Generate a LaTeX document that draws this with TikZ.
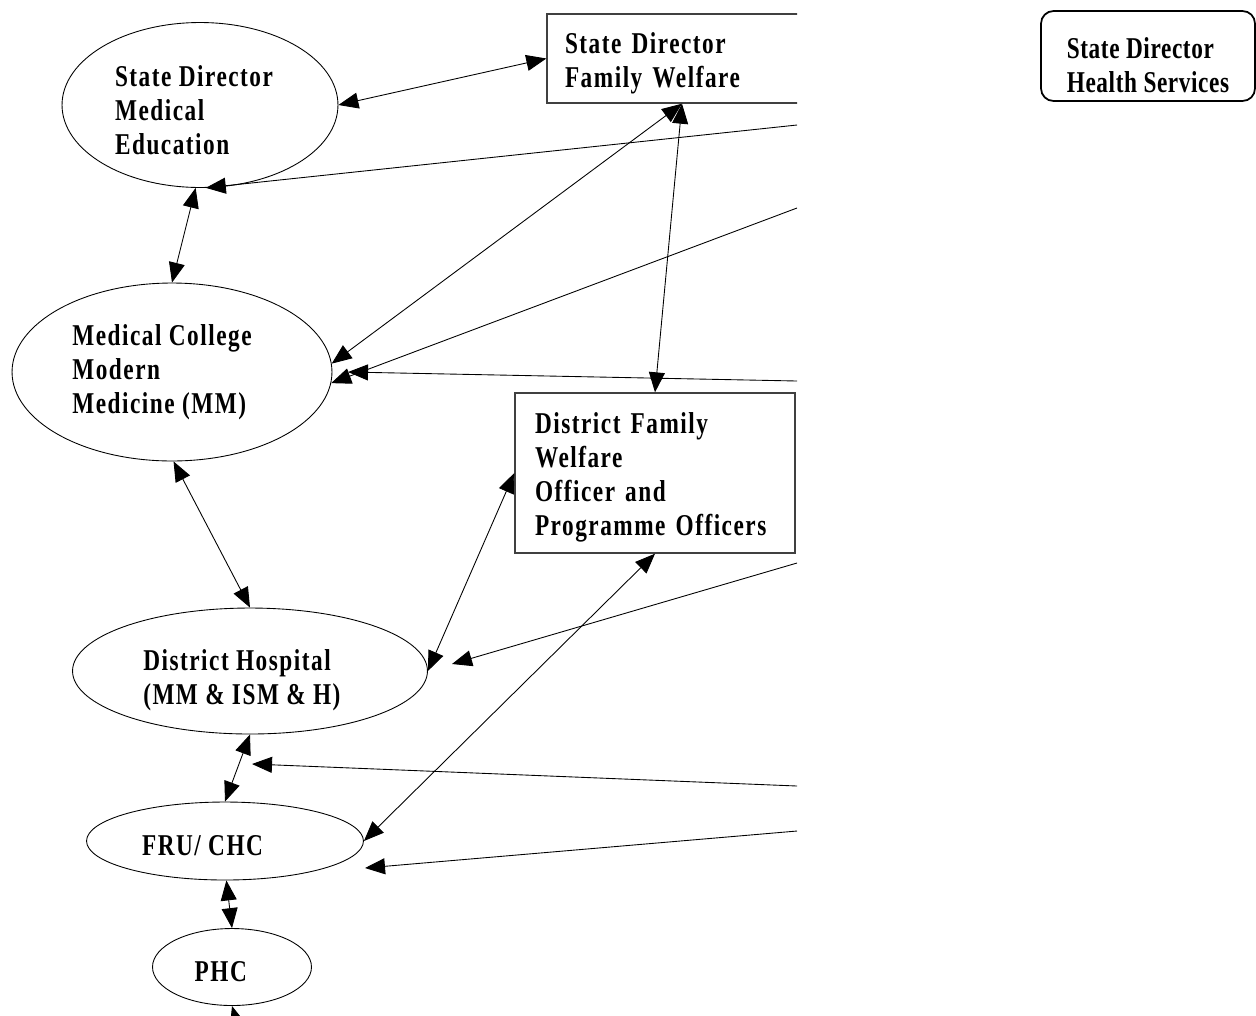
\documentclass[tikz,border=0pt]{standalone}
\usepackage{fontspec}
\setmainfont{Liberation Serif}[FakeStretch=0.77,LetterSpace=5]
\usepackage{tikz}
\usetikzlibrary{arrows.meta}
\usetikzlibrary{shapes.geometric}

\begin{document}
\begin{tikzpicture}[x=0.02cm,y=-0.02cm,>={Triangle[length=0.4cm,width=0.32cm]},
                    line width=0.5pt]
  \tikzstyle{every node}=[font=\fontsize{17.2}{19.4}\selectfont\bfseries,align=left,
                          execute at begin node={\rule{0pt}{17pt}}]
  \tikzstyle{oval}=[ellipse,draw,inner sep=0pt]
  \tikzstyle{office}=[rectangle,draw=black!75,line width=0.8pt,inner ysep=0pt]

  \useasboundingbox (0,0) rectangle (1256,1015);

  \node[office,rounded corners=0.25cm,draw=black,line width=1pt,minimum height=1.8cm,
        minimum width=4.28cm,font=\fontsize{17.2}{19.4}\selectfont\bfseries\addfontfeatures{LetterSpace=2}]
        (SHS) at (1148,56) {\rule{0pt}{22pt}State Director\\Health Services};

  \begin{scope}
  \clip (0,0) rectangle (797,1015);

  \node[oval,minimum width=5.52cm,minimum height=3.3cm]  (SME) at (200,105) {\rule{0pt}{18pt}State Director\hspace*{0.24cm}\\Medical\\Education};
  \node[oval,minimum width=6.4cm,minimum height=3.56cm]  (MC)  at (172,372) {Medical College\hspace*{0.4cm}\\Modern\\Medicine (MM)};
  \node[oval,minimum width=7.1cm,minimum height=2.52cm]  (DH)  at (250,671) {\rule{0pt}{22pt}District Hospital\hspace*{0.52cm}\\(MM \& ISM \& H)};
  \node[oval,minimum width=5.54cm,minimum height=1.56cm] (FRU) at (225,841) {FRU/ CHC\hspace*{0.9cm}};
  \node[oval,minimum width=3.18cm,minimum height=1.54cm] (PHC) at (232,967) {PHC\hspace*{0.45cm}};
  \node[office,minimum height=1.78cm,text width=4.68cm,inner xsep=0.36cm] (SFW) at (682,58.5) {State Director\\Family Welfare};
  \node[office,minimum height=3.2cm,text width=4.8cm,inner xsep=0.4cm]    (DFW) at (655,473) {District Family\\Welfare\\Officer and\\Programme Officers};

  % loose ends on the right and tips that stop short
  \coordinate (r1) at (797,125);
  \coordinate (r2) at (797,208);
  \coordinate (r3) at (797,381);
  \coordinate (r4) at (797,563);
  \coordinate (r5) at (797,786);
  \coordinate (r6) at (797,831);
  \coordinate (t1) at (348,372);
  \coordinate (t2) at (452,664);
  \coordinate (t3) at (252,764);
  \coordinate (t4) at (365,868);
  \coordinate (b)  at (245,1050);

  \path[<->] (SME.east)   edge (SFW.west)
             (SME.-93)    edge (MC.north)
             (SFW.south)  edge (MC.3)
             (SFW.south)  edge (DFW.north)
             (MC.-89)     edge (DH.north)
             (DFW.west)   edge (DH.east)
             (DFW.south)  edge (FRU.east)
             (DH.south)   edge (FRU.north)
             (FRU.-88)    edge (PHC.north);
  \path[->]  (r1) edge (SME.-86)
             (r2) edge (MC.-4)
             (r3) edge (t1)
             (r4) edge (t2)
             (r5) edge (t3)
             (r6) edge (t4)
             (b)  edge (PHC.south);
  \end{scope}
\end{tikzpicture}
\end{document}
